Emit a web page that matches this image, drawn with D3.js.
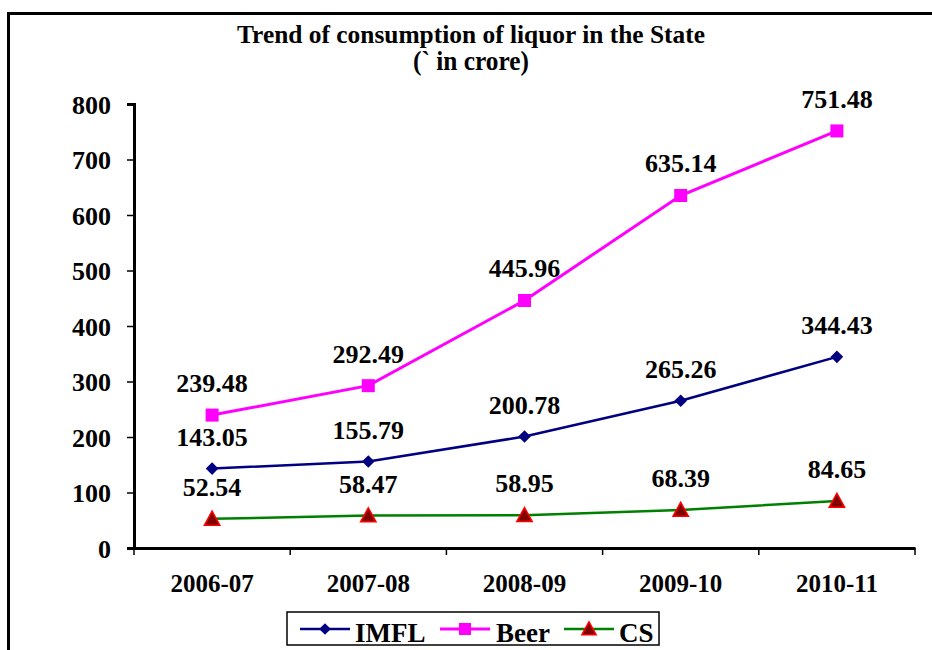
<!DOCTYPE html>
<html>
<head>
<meta charset="utf-8">
<script src="https://cdn.jsdelivr.net/npm/d3@7"></script>
<style>
  body { margin: 0; background: #fff; }
  svg { display: block; font-family: "Liberation Serif", "Times New Roman", serif; font-weight: bold; }
</style>
</head>
<body>
<svg width="932" height="650"></svg>
<script>
let years = ["2006-07", "2007-08", "2008-09", "2009-10", "2010-11"]
let imfl = [143.05, 155.79, 200.78, 265.26, 344.43]
let beer = [239.48, 292.49, 445.96, 635.14, 751.48]
let cs = [52.54, 58.47, 58.95, 68.39, 84.65]
let yTicks = [0, 100, 200, 300, 400, 500, 600, 700, 800]

let series = [
    { name: "IMFL", values: imfl, color: "#000080", width: 2.5, marker: "diamond" },
    { name: "Beer", values: beer, color: "#ff00ff", width: 3, marker: "square" },
    { name: "CS", values: cs, color: "#008000", width: 2.5, marker: "triangle" }
]

let margin = { top: 104, right: 17, bottom: 102, left: 134 },
    width = 932 - margin.left - margin.right,
    height = 650 - margin.top - margin.bottom

let svg = d3.select("svg")

// outer frame, runs off the right and bottom edges
svg.append("rect")
    .attr("x", 8.5).attr("y", 13.5)
    .attr("width", 1000).attr("height", 1000)
    .attr("fill", "none").attr("stroke", "#000").attr("stroke-width", 3)

// title, a bit tall and narrow like the original
svg.append("text")
    .attr("transform", "translate(471,43) scale(1,1.12)")
    .attr("text-anchor", "middle")
    .attr("font-size", 23)
    .attr("textLength", 468).attr("lengthAdjust", "spacingAndGlyphs")
    .text("Trend of consumption of liquor in the State")

svg.append("text")
    .attr("transform", "translate(471,70) scale(1,1.12)")
    .attr("text-anchor", "middle")
    .attr("font-size", 24)
    .attr("textLength", 116).attr("lengthAdjust", "spacingAndGlyphs")
    .text("(`  in crore)")

let x = d3.scaleBand().domain(years).range([0, width])
let y = d3.scaleLinear().domain([0, 800]).range([height, 0])

let g = svg.append("g")
    .attr("transform", "translate(" + margin.left + "," + margin.top + ")")

// y axis
let yAxis = g.append("g")
    .call(d3.axisLeft(y).tickValues(yTicks).tickSize(7).tickPadding(16))
yAxis.select(".domain").attr("stroke-width", 3)
yAxis.selectAll(".tick line").attr("stroke-width", 1.5)
yAxis.selectAll(".tick text")
    .attr("font-size", 26).attr("font-family", "Liberation Serif").attr("font-weight", "bold")
    .attr("dy", "0.36em")

// x axis, ticks on category boundaries
let xAxis = g.append("g")
    .attr("transform", "translate(0," + height + ")")
    .call(d3.axisBottom(x).tickSize(0).tickPadding(26))
xAxis.select(".domain").attr("stroke-width", 3)
xAxis.selectAll(".tick text")
    .attr("font-size", 25).attr("font-family", "Liberation Serif").attr("font-weight", "bold")
g.append("g")
    .selectAll("line")
    .data(years.map(d => x(d)).concat([width]))
    .join("line")
    .attr("x1", d => d).attr("x2", d => d)
    .attr("y1", height).attr("y2", height + 7)
    .attr("stroke", "#000").attr("stroke-width", 1.5)

let line = d3.line()
    .x((d, i) => x(years[i]) + x.bandwidth() / 2)
    .y(d => y(d))

function drawMarker(sel, type, size) {
    if (type === "diamond") {
        sel.append("path")
            .attr("d", d3.symbol(d3.symbolDiamond2, size * size * 0.6)())
            .attr("fill", "#000080")
    } else if (type === "square") {
        sel.append("rect")
            .attr("x", -size / 2).attr("y", -size / 2)
            .attr("width", size).attr("height", size)
            .attr("fill", "#ff00ff")
    } else {
        sel.append("path")
            .attr("d", "M0," + (-size * 0.55) + "L" + (size * 0.55) + "," + (size * 0.45) + "L" + (-size * 0.55) + "," + (size * 0.45) + "Z")
            .attr("fill", "#800000").attr("stroke", "#ff0000").attr("stroke-width", 1.5)
    }
}

series.forEach(s => {
    g.append("path")
        .datum(s.values)
        .attr("d", line)
        .attr("fill", "none")
        .attr("stroke", s.color)
        .attr("stroke-width", s.width)

    s.values.forEach((v, i) => {
        let px = x(years[i]) + x.bandwidth() / 2
        let m = g.append("g").attr("transform", "translate(" + px + "," + y(v) + ")")
        drawMarker(m, s.marker, s.marker === "triangle" ? 14 : 13)

        g.append("text")
            .attr("x", px).attr("y", y(v) - 23)
            .attr("text-anchor", "middle")
            .attr("font-size", 26)
            .text(v.toFixed(2))
    })
})

// legend
let legend = svg.append("g")
legend.append("rect")
    .attr("x", 287).attr("y", 612)
    .attr("width", 372).attr("height", 33)
    .attr("fill", "#fff").attr("stroke", "#000").attr("stroke-width", 1.5)

let legendPos = [{ lx: 300, tx: 355 }, { lx: 440, tx: 496 }, { lx: 564, tx: 619 }]
series.forEach((s, i) => {
    let p = legendPos[i]
    legend.append("line")
        .attr("x1", p.lx).attr("x2", p.lx + 50)
        .attr("y1", 629).attr("y2", 629)
        .attr("stroke", s.color).attr("stroke-width", s.width)
    let m = legend.append("g").attr("transform", "translate(" + (p.lx + 25) + ",629)")
    drawMarker(m, s.marker, s.marker === "triangle" ? 13 : 12)
    legend.append("text")
        .attr("x", p.tx).attr("y", 642)
        .attr("font-size", 27)
        .text(s.name)
})
</script>
</body>
</html>
